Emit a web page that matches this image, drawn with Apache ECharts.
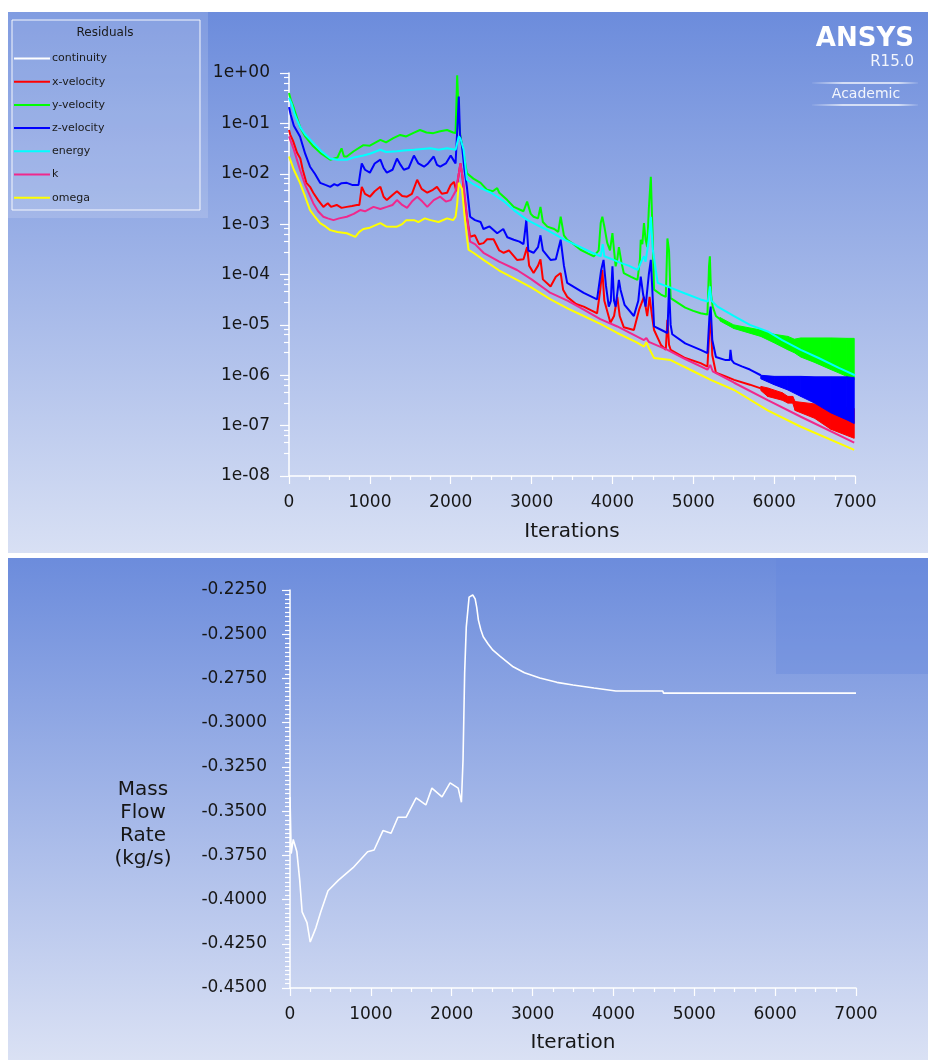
<!DOCTYPE html>
<html>
<head>
<meta charset="utf-8">
<script src="https://cdn.jsdelivr.net/npm/echarts@6/dist/echarts.min.js"></script>
<style>
html,body{margin:0;padding:0;background:#fff;}
#chart{width:928px;height:1060px;}
</style>
</head>
<body>
<div id="chart"></div>
<script>
// ---------- Residuals (top chart) : [iteration, residual] ----------
const continuity = [];
const xVelocity = [[0,0.074],[15,0.06],[50,0.045],[100,0.026],[140,0.02],[170,0.012],[215,0.0066],[260,0.0055],[300,0.0042],[360,0.0030],[425,0.0022],[480,0.0026],[520,0.0022],[590,0.0024],[650,0.0021],[715,0.0022],[780,0.0023],[840,0.0024],[870,0.0024],[900,0.0055],[940,0.0040],[1000,0.0035],[1060,0.0045],[1130,0.0055],[1170,0.0035],[1210,0.0030],[1280,0.0038],[1335,0.0045],[1400,0.0036],[1460,0.0035],[1520,0.0040],[1585,0.0076],[1640,0.0050],[1710,0.0042],[1780,0.0048],[1830,0.0055],[1890,0.0040],[1955,0.0042],[2000,0.0060],[2040,0.0069],[2070,0.0045],[2100,0.010],[2120,0.016],[2140,0.010],[2170,0.0035],[2200,0.0014],[2240,0.00056],[2300,0.0006],[2350,0.0004],[2405,0.00042],[2450,0.0005],[2530,0.0005],[2600,0.0003],[2655,0.00027],[2720,0.0003],[2820,0.000195],[2900,0.0002],[2945,0.00035],[2970,0.00015],[3025,0.000107],[3080,0.00015],[3110,0.0002],[3140,0.00008],[3235,0.000058],[3300,0.00009],[3360,0.000107],[3390,0.00005],[3440,0.000036],[3550,0.000026],[3645,0.000023],[3750,0.000019],[3810,0.000017],[3850,0.00005],[3875,0.000123],[3900,0.00003],[3975,0.000011],[4020,0.000015],[4060,0.000036],[4090,0.000015],[4140,0.000009],[4265,7.9e-6],[4330,0.00002],[4390,0.000036],[4430,0.000015],[4460,0.000036],[4490,0.000015],[4515,7.9e-6],[4600,4.0e-6],[4660,3.2e-6],[4680,1.26e-5],[4700,4e-6],[4720,3.2e-6],[4900,2.2e-6],[5090,1.74e-6],[5175,1.48e-6],[5200,8e-6],[5215,1.5e-5],[5235,2.5e-6],[5280,1.12e-6],[5400,9.5e-7],[5505,8.1e-7],[5700,6.5e-7],[5835,5.5e-7]];
const xVelocityBand = [[5835,6.0e-7,5.0e-7],[5920,5.6e-7,3.8e-7],[6100,4.5e-7,3.2e-7],[6170,3.8e-7,2.8e-7],[6230,3.8e-7,2.8e-7],[6260,3.0e-7,2.0e-7],[6500,2.7e-7,1.4e-7],[6700,2.4e-7,8.5e-8],[6990,2.2e-7,5.6e-8]];
const yVelocity = [[0,0.40],[20,0.30],[60,0.20],[136,0.085],[200,0.055],[300,0.035],[400,0.025],[510,0.019],[600,0.021],[650,0.032],[680,0.022],[715,0.022],[800,0.028],[920,0.037],[1000,0.036],[1130,0.047],[1200,0.042],[1290,0.051],[1375,0.059],[1450,0.055],[1540,0.065],[1620,0.074],[1700,0.066],[1785,0.064],[1870,0.070],[1955,0.074],[2030,0.066],[2060,0.064],[2080,0.9],[2100,0.12],[2120,0.055],[2160,0.025],[2200,0.0102],[2280,0.0080],[2370,0.0066],[2450,0.0048],[2520,0.0045],[2575,0.0052],[2600,0.0042],[2700,0.0030],[2780,0.0022],[2900,0.0018],[2945,0.0028],[2990,0.0016],[3025,0.0014],[3080,0.0013],[3110,0.0022],[3140,0.0011],[3195,0.00089],[3280,0.0008],[3330,0.0007],[3360,0.0014],[3400,0.0006],[3440,0.00049],[3520,0.00040],[3605,0.00031],[3700,0.00026],[3770,0.00023],[3830,0.0003],[3855,0.00105],[3875,0.0014],[3900,0.0009],[3935,0.00043],[3970,0.0003],[4000,0.00066],[4020,0.0003],[4040,0.000145],[4060,0.0002],[4080,0.00035],[4110,0.00018],[4140,0.000107],[4230,0.00009],[4310,0.000078],[4340,0.0002],[4350,0.00049],[4370,0.0004],[4390,0.00105],[4410,0.0005],[4430,0.00035],[4450,0.002],[4475,0.0087],[4495,0.0008],[4515,0.00005],[4600,0.00004],[4660,0.000036],[4680,0.00052],[4700,0.0003],[4720,0.000034],[4800,0.000028],[4900,0.000022],[5000,0.000019],[5090,0.000017],[5175,0.000016],[5195,0.00015],[5205,0.00023],[5220,0.00004],[5240,0.000023],[5280,0.000015],[5330,0.000013]];
const yVelocityBand = [[5330,1.4e-5,1.2e-5],[5500,1.0e-5,8.5e-6],[5835,7.9e-6,5.9e-6],[6000,6.5e-6,4.4e-6],[6170,5.9e-6,3.2e-6],[6250,5.2e-6,2.8e-6],[6330,5.5e-6,2.3e-6],[6500,5.5e-6,1.8e-6],[6700,5.5e-6,1.3e-6],[6900,5.4e-6,9.5e-7],[6990,5.4e-6,8.1e-7]];
const zVelocity = [[0,0.21],[20,0.15],[60,0.09],[136,0.055],[200,0.025],[260,0.0138],[320,0.010],[385,0.0066],[450,0.0060],[510,0.0055],[560,0.0062],[600,0.0058],[650,0.0065],[715,0.0066],[780,0.0060],[860,0.0060],[880,0.010],[900,0.016],[940,0.012],[1000,0.0105],[1060,0.016],[1130,0.019],[1170,0.013],[1210,0.0105],[1280,0.012],[1335,0.020],[1380,0.015],[1420,0.012],[1480,0.013],[1545,0.023],[1600,0.016],[1670,0.0138],[1720,0.016],[1790,0.022],[1830,0.015],[1870,0.0138],[1940,0.016],[2000,0.023],[2040,0.018],[2060,0.016],[2085,0.10],[2100,0.34],[2115,0.06],[2140,0.035],[2170,0.012],[2200,0.0055],[2240,0.0014],[2300,0.0012],[2370,0.0011],[2405,0.0008],[2480,0.0009],[2575,0.00066],[2650,0.0008],[2700,0.00055],[2780,0.00049],[2850,0.00045],[2900,0.0004],[2935,0.0012],[2945,0.0012],[2960,0.0003],[3025,0.00027],[3080,0.00035],[3110,0.0006],[3140,0.0003],[3235,0.000195],[3300,0.0002],[3360,0.00049],[3400,0.00015],[3440,0.000068],[3645,0.000043],[3810,0.000032],[3860,0.00012],[3890,0.000195],[3920,0.00006],[3955,0.000023],[3980,0.00003],[4000,0.000145],[4020,0.00003],[4040,0.000023],[4080,0.000078],[4100,0.00005],[4150,0.000025],[4265,0.000015],[4320,0.00003],[4350,0.000091],[4380,0.00004],[4410,0.000023],[4450,0.0001],[4475,0.000195],[4500,0.00003],[4515,9.3e-6],[4600,8e-6],[4680,6.9e-6],[4700,5.8e-5],[4720,1e-5],[4740,6.5e-6],[4900,4.3e-6],[5090,3.2e-6],[5175,2.75e-6],[5200,1.5e-5],[5215,2.3e-5],[5235,5e-6],[5280,2.3e-6],[5400,2.0e-6],[5450,2.0e-6],[5460,3.2e-6],[5475,2.0e-6],[5505,1.74e-6],[5600,1.5e-6],[5700,1.3e-6],[5835,1.0e-6]];
const zVelocityBand = [[5835,1.0e-6,8.5e-7],[6000,9.5e-7,6.5e-7],[6170,9.5e-7,5.1e-7],[6330,9.5e-7,3.8e-7],[6500,9.3e-7,2.8e-7],[6700,9.3e-7,1.8e-7],[6900,9.3e-7,1.3e-7],[6990,9.0e-7,1.1e-7]];
const energy = [[0,0.32],[30,0.25],[70,0.15],[136,0.085],[200,0.06],[300,0.041],[400,0.028],[510,0.020],[600,0.019],[715,0.019],[800,0.021],[920,0.023],[1000,0.025],[1130,0.030],[1200,0.027],[1335,0.028],[1420,0.029],[1545,0.030],[1650,0.031],[1750,0.032],[1850,0.030],[1955,0.032],[2060,0.030],[2100,0.055],[2120,0.05],[2160,0.030],[2200,0.0076],[2280,0.0062],[2370,0.0052],[2500,0.0042],[2650,0.0029],[2780,0.0019],[2950,0.0012],[3100,0.0009],[3195,0.00076],[3400,0.00050],[3605,0.00035],[3750,0.00027],[3855,0.00023],[3880,0.0004],[3900,0.00023],[4000,0.0002],[4100,0.00017],[4200,0.00015],[4310,0.000123],[4370,0.0002],[4390,0.00023],[4410,0.00018],[4450,0.0005],[4475,0.0014],[4500,0.0003],[4560,0.000068],[4700,0.000056],[4900,0.000042],[5090,0.000032],[5180,0.000029],[5205,0.000058],[5225,0.00003],[5300,0.000023],[5505,0.000015],[5700,0.00001],[5920,7.4e-6],[6100,5.0e-6],[6330,3.2e-6],[6550,2.2e-6],[6800,1.4e-6],[7000,1.0e-6]];
const kResidual = [[0,0.055],[20,0.045],[60,0.03],[136,0.012],[200,0.006],[300,0.0026],[360,0.0018],[425,0.0014],[480,0.0013],[550,0.0012],[620,0.0013],[715,0.0014],[800,0.0016],[880,0.0019],[940,0.0018],[1045,0.0022],[1130,0.0020],[1210,0.0022],[1280,0.0024],[1335,0.0030],[1400,0.0024],[1460,0.0021],[1520,0.0028],[1585,0.0035],[1650,0.0028],[1710,0.0022],[1790,0.0030],[1870,0.0035],[1940,0.0028],[2000,0.0030],[2060,0.0045],[2100,0.010],[2120,0.016],[2150,0.008],[2200,0.0014],[2240,0.00045],[2300,0.0004],[2405,0.00027],[2600,0.00018],[2820,0.000123],[3000,0.00008],[3235,0.000043],[3450,0.00003],[3645,0.00002],[3850,0.000013],[4060,9.3e-6],[4390,5.0e-6],[4420,5.5e-6],[4450,4.6e-6],[4680,3.2e-6],[4900,2.1e-6],[5175,1.29e-6],[5210,1.6e-6],[5240,1.2e-6],[5505,7.1e-7],[5920,3.2e-7],[6330,1.5e-7],[6990,4.6e-8]];
const omega = [[0,0.022],[20,0.018],[60,0.012],[136,0.0066],[200,0.0035],[260,0.0019],[320,0.0014],[385,0.00105],[450,0.0009],[510,0.00076],[600,0.0007],[715,0.00066],[820,0.00056],[870,0.0007],[920,0.0008],[1000,0.00085],[1130,0.00105],[1200,0.0009],[1335,0.00089],[1400,0.0010],[1450,0.0012],[1545,0.0012],[1600,0.0011],[1680,0.0013],[1750,0.0012],[1850,0.0011],[1955,0.0013],[2030,0.0012],[2060,0.0014],[2080,0.0025],[2100,0.0066],[2140,0.005],[2170,0.0015],[2200,0.00056],[2220,0.00031],[2280,0.00027],[2405,0.000195],[2600,0.00012],[2820,0.000078],[3000,0.000055],[3235,0.000032],[3450,0.000021],[3645,0.000015],[3850,0.0000105],[4060,6.9e-6],[4300,4.5e-6],[4390,3.7e-6],[4420,4.5e-6],[4450,3.5e-6],[4515,2.2e-6],[4720,2.0e-6],[5000,1.2e-6],[5215,8.1e-7],[5505,5.1e-7],[5920,2.0e-7],[6330,9.5e-8],[6990,3.3e-8]];

// ---------- Mass flow rate (bottom chart) : [iteration, kg/s] ----------
const massFlow = [[0,-0.342],[15,-0.374],[40,-0.366],[60,-0.367],[85,-0.373],[120,-0.389],[150,-0.407],[210,-0.413],[250,-0.424],[320,-0.416],[380,-0.407],[470,-0.395],[600,-0.389],[780,-0.382],[960,-0.373],[1040,-0.372],[1150,-0.361],[1250,-0.3625],[1335,-0.3535],[1435,-0.3535],[1560,-0.3425],[1680,-0.3465],[1755,-0.337],[1880,-0.342],[1980,-0.334],[2080,-0.337],[2120,-0.345],[2140,-0.321],[2160,-0.272],[2180,-0.246],[2215,-0.229],[2260,-0.2278],[2290,-0.230],[2310,-0.235],[2330,-0.242],[2360,-0.2475],[2390,-0.2514],[2450,-0.2555],[2510,-0.259],[2600,-0.2625],[2760,-0.2684],[2900,-0.2718],[3090,-0.2748],[3300,-0.2772],[3500,-0.2787],[3760,-0.2804],[4030,-0.2821],[4610,-0.2821],[4620,-0.2833],[7000,-0.2833]];

const legendNames = ['continuity','x-velocity','y-velocity','z-velocity','energy','k','omega'];
const seriesColors = ['#ffffff','#ff0000','#00ff00','#0000ff','#00ffff','#f0288c','#ffff00'];
const legendTitle = 'Residuals';
const topXName = 'Iterations';
const bottomXName = 'Iteration';
const bottomYName = 'Mass\nFlow\nRate\n(kg/s)';

const FONT = 'DejaVu Sans';
const chart = echarts.init(document.getElementById('chart'), null, {renderer:'canvas'});

function bandSeries(name, band, color) {
  return {
    type: 'custom', name: name, xAxisIndex: 0, yAxisIndex: 0, silent: true,
    data: band,
    renderItem: function (params, api) {
      const i = params.dataIndex;
      if (i >= band.length - 1) return null;
      const a = band[i], b = band[i + 1];
      const pts = [api.coord([a[0], a[1]]), api.coord([b[0], b[1]]), api.coord([b[0], b[2]]), api.coord([a[0], a[2]])];
      return {type: 'polygon', shape: {points: pts}, style: {fill: color, stroke: color, lineWidth: 1}};
    }
  };
}
function lineSeries(idx, data) {
  return {
    type: 'line', name: legendNames[idx], xAxisIndex: 0, yAxisIndex: 0, data: data,
    showSymbol: false, symbol: 'none', animation: false,
    lineStyle: {color: seriesColors[idx], width: 2}, itemStyle: {color: seriesColors[idx]}
  };
}
const axisTextStyle = {color: '#161616', fontFamily: FONT, fontSize: 17};
function xAxisCfg(gridIndex, name, gap) {
  return {
    type: 'value', gridIndex: gridIndex, min: 0, max: 7000, interval: 1000,
    name: name, nameLocation: 'middle', nameGap: gap,
    nameTextStyle: {color: '#161616', fontFamily: FONT, fontSize: 20},
    axisLine: {show: true, lineStyle: {color: '#ffffff', width: 1.5}},
    axisTick: {show: true, length: 8, lineStyle: {color: '#ffffff', width: 1.2}},
    minorTick: {show: true, splitNumber: 4, length: 4, lineStyle: {color: '#ffffff', width: 1.2}},
    splitLine: {show: false},
    axisLabel: Object.assign({margin: 18, formatter: function (v) { return String(v); }}, axisTextStyle)
  };
}
const fadeLine = function () {
  return new echarts.graphic.LinearGradient(0, 0, 1, 0, [{offset: 0, color: 'rgba(255,255,255,0)'}, {offset: 0.3, color: 'rgba(255,255,255,0.9)'}, {offset: 0.8, color: 'rgba(255,255,255,0.9)'}, {offset: 1, color: 'rgba(255,255,255,0)'}]);
};

const option = {
  animation: false,
  backgroundColor: '#ffffff',
  graphic: [
    {type: 'rect', z: -10, silent: true, shape: {x: 8, y: 12, width: 920, height: 541},
      style: {fill: new echarts.graphic.LinearGradient(0, 0, 0, 1, [{offset: 0, color: '#6c8cdc'}, {offset: 1, color: '#d8e0f4'}])}},
    {type: 'rect', z: -10, silent: true, shape: {x: 8, y: 558, width: 920, height: 502},
      style: {fill: new echarts.graphic.LinearGradient(0, 0, 0, 1, [{offset: 0, color: '#6c8cdc'}, {offset: 1, color: '#dae1f4'}])}},
    {type: 'rect', z: -9, silent: true, shape: {x: 776, y: 558, width: 152, height: 116},
      style: {fill: 'rgba(100,135,222,0.35)'}},
    // legend box
    {type: 'rect', z: -8, silent: true, shape: {x: 8, y: 12, width: 200, height: 206},
      style: {fill: 'rgba(255,255,255,0.14)'}},
    {type: 'rect', z: -7, silent: true, shape: {x: 12, y: 20, width: 188, height: 190},
      style: {fill: 'rgba(255,255,255,0.06)', stroke: '#f4f6fc', lineWidth: 1}},
    {type: 'text', silent: true, style: {x: 105, y: 33, text: legendTitle, fill: '#1a1a1a', font: '12px "' + FONT + '"', textAlign: 'center', textVerticalAlign: 'middle'}},
    // ANSYS logo
    {type: 'text', silent: true, style: {x: 914, y: 39, text: 'ANSYS', fill: '#ffffff', font: 'bold 26px "DejaVu Sans"', textAlign: 'right', textVerticalAlign: 'middle'}},
    {type: 'text', silent: true, style: {x: 914, y: 62, text: 'R15.0', fill: '#f2f5fc', font: '15px "DejaVu Sans"', textAlign: 'right', textVerticalAlign: 'middle'}},
    {type: 'line', silent: true, shape: {x1: 812, y1: 83, x2: 918, y2: 83}, style: {stroke: fadeLine(), lineWidth: 1.5}},
    {type: 'text', silent: true, style: {x: 866, y: 94, text: 'Academic', fill: '#f2f5fc', font: '14px "DejaVu Sans"', textAlign: 'center', textVerticalAlign: 'middle'}},
    {type: 'line', silent: true, shape: {x1: 812, y1: 105, x2: 918, y2: 105}, style: {stroke: fadeLine(), lineWidth: 1.5}},
    // bottom y-axis title
    {type: 'text', silent: true, style: {x: 143, y: 824, text: bottomYName, fill: '#161616', font: '20px "' + FONT + '"', textAlign: 'center', textVerticalAlign: 'middle', lineHeight: 23}}
  ],
  legend: {
    data: legendNames, orient: 'vertical', left: 9, top: 48, itemGap: 12.2,
    itemWidth: 36, itemHeight: 2, icon: 'rect', selectedMode: false,
    textStyle: {color: '#1a1a1a', fontFamily: FONT, fontSize: 11, padding: [0, 0, 0, -3]}
  },
  grid: [
    {left: 289, top: 73, width: 566, height: 403, show: false},
    {left: 290, top: 590, width: 566, height: 398, show: false}
  ],
  xAxis: [xAxisCfg(0, topXName, 46), xAxisCfg(1, bottomXName, 45)],
  yAxis: [
    {
      type: 'log', gridIndex: 0, logBase: 10, min: 1e-8, max: 1, splitNumber: 8,
      axisLine: {show: true, lineStyle: {color: '#ffffff', width: 1.5}},
      axisTick: {show: true, length: 9, lineStyle: {color: '#ffffff', width: 1.2}},
      minorTick: {show: true, splitNumber: 5, length: 5, lineStyle: {color: '#ffffff', width: 1.2}},
      splitLine: {show: false},
      axisLabel: Object.assign({margin: 19, formatter: function (v) {
        const e = Math.round(Math.log10(v)); const a = Math.abs(e);
        return '1e' + (e < 0 ? '-' : '+') + (a < 10 ? '0' + a : '' + a);
      }}, axisTextStyle)
    },
    {
      type: 'value', gridIndex: 1, min: -0.45, max: -0.225, interval: 0.025,
      axisLine: {show: true, lineStyle: {color: '#ffffff', width: 1.5}},
      axisTick: {show: true, length: 8, lineStyle: {color: '#ffffff', width: 1.2}},
      minorTick: {show: true, splitNumber: 10, length: 5, lineStyle: {color: '#ffffff', width: 1.2}},
      splitLine: {show: false},
      axisLabel: Object.assign({margin: 23, formatter: function (v) { return v.toFixed(4); }}, axisTextStyle)
    }
  ],
  series: [
    lineSeries(0, continuity),
    lineSeries(1, xVelocity),
    bandSeries('x-velocity band', xVelocityBand, seriesColors[1]),
    lineSeries(2, yVelocity),
    bandSeries('y-velocity band', yVelocityBand, seriesColors[2]),
    lineSeries(3, zVelocity),
    bandSeries('z-velocity band', zVelocityBand, seriesColors[3]),
    lineSeries(4, energy),
    lineSeries(5, kResidual),
    lineSeries(6, omega),
    {
      type: 'line', name: 'Mass Flow Rate', xAxisIndex: 1, yAxisIndex: 1, data: massFlow,
      showSymbol: false, symbol: 'none', lineStyle: {color: '#ffffff', width: 1.6}
    }
  ]
};
chart.setOption(option);
</script>
</body>
</html>
